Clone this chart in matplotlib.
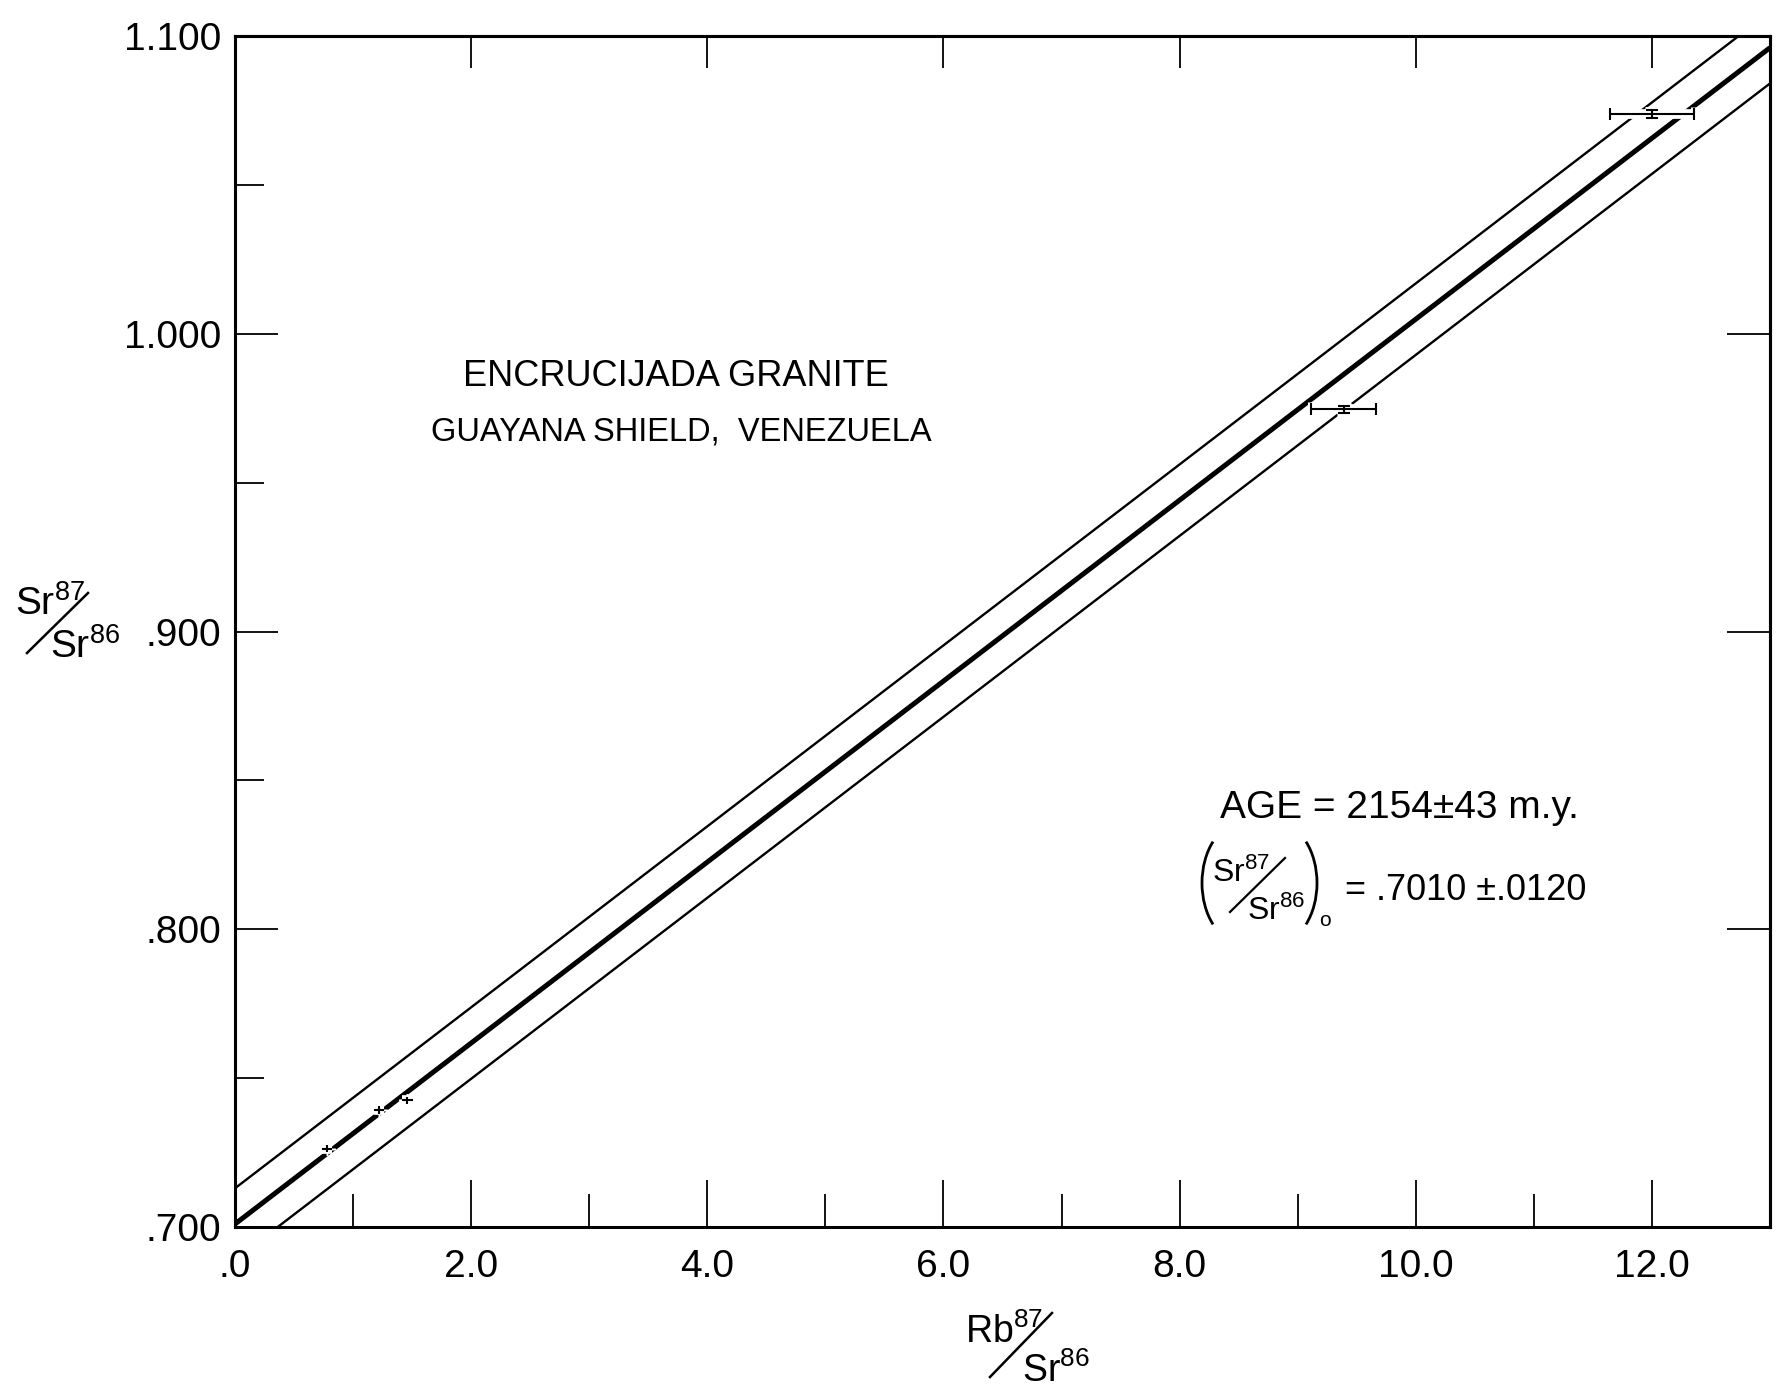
import matplotlib
matplotlib.use('agg')
import matplotlib.pyplot as plt
from matplotlib.lines import Line2D
from matplotlib.patches import Arc
import numpy as np

plt.rcParams['font.family'] = ['Liberation Sans', 'DejaVu Sans']
plt.rcParams['mathtext.default'] = 'regular'

W, H = 1788, 1392

# isochron as drawn (intercept, slope, +/- envelope)
INTERCEPT = 0.7010
SLOPE = 0.03039
ENVELOPE = 0.012
XLIM = (0.0, 13.0)
YLIM = (0.700, 1.100)

# samples
rb_sr = [0.78, 1.22, 1.46, 9.39, 12.00]
sr_sr = [0.7263, 0.7393, 0.7425, 0.9747, 1.0738]
rb_err = [0.045, 0.045, 0.045, 0.275, 0.355]
sr_err = [0.0012, 0.0012, 0.0012, 0.0012, 0.0013]

XTICKS = [0, 2, 4, 6, 8, 10, 12]
XTICKLABELS = ['.0', '2.0', '4.0', '6.0', '8.0', '10.0', '12.0']
XMINOR = [1, 3, 5, 7, 9, 11]
XTOP = [2, 4, 6, 8, 10, 12]
YTICKS = [0.7, 0.8, 0.9, 1.0, 1.1]
YTICKLABELS = ['.700', '.800', '.900', '1.000', '1.100']
YMINOR = [0.75, 0.85, 0.95, 1.05]
YRIGHT = [0.8, 0.9, 1.0]


def fx(px):
    return px / W


def fy(py):
    return 1 - py / H


fig = plt.figure(figsize=(W / 100, H / 100), dpi=100)
ax = fig.add_axes([fx(235), fy(1227), (1770 - 235) / W, (1227 - 36) / H])

xs = np.array(XLIM)
ax.plot(xs, INTERCEPT + SLOPE * xs, color='black', lw=3.6, solid_capstyle='butt', zorder=2)
ax.plot(xs, INTERCEPT + ENVELOPE + SLOPE * xs, color='black', lw=1.7, zorder=2)
ax.plot(xs, INTERCEPT - ENVELOPE + SLOPE * xs, color='black', lw=1.7, zorder=2)

# white halo under the error bars breaks the lines, as on the drawing
for sl, cap in ((slice(0, 3), 0), (slice(3, 5), 4)):
    ax.errorbar(rb_sr[sl], sr_sr[sl], xerr=rb_err[sl], yerr=sr_err[sl],
                fmt='none', ecolor='white', elinewidth=7, capsize=cap + 1,
                capthick=5, zorder=3)
    ax.errorbar(rb_sr[sl], sr_sr[sl], xerr=rb_err[sl], yerr=sr_err[sl],
                fmt='none', ecolor='black', elinewidth=1.5, capsize=cap,
                capthick=1.5, zorder=4)

ax.set_xlim(*XLIM)
ax.set_ylim(*YLIM)
ax.set_xticks(XTICKS)
ax.set_xticklabels(XTICKLABELS)
ax.set_xticks(XMINOR, minor=True)
ax.set_yticks(YTICKS)
ax.set_yticklabels(YTICKLABELS)
ax.set_yticks(YMINOR, minor=True)

ax.tick_params(axis='x', which='major', direction='in', length=34, width=1.3,
               labelsize=28, pad=16, top=False)
ax.tick_params(axis='x', which='minor', direction='in', length=24, width=1.3, top=False)
ax.tick_params(axis='y', which='major', direction='in', length=31, width=1.3,
               labelsize=28, pad=10, right=False)
ax.tick_params(axis='y', which='minor', direction='in', length=21, width=1.3, right=False)
for s in ax.spines.values():
    s.set_linewidth(2.2)

top = ax.secondary_xaxis('top')
top.set_xticks(XTOP)
top.tick_params(direction='in', length=23, width=1.3, labeltop=False)
top.spines['top'].set_linewidth(2.2)
right = ax.secondary_yaxis('right')
right.set_yticks(YRIGHT)
right.tick_params(direction='in', length=31, width=1.3, labelright=False)
right.spines['right'].set_linewidth(2.2)

# titles inside the plot
fig.text(fx(676), fy(377), 'ENCRUCIJADA GRANITE', fontsize=26, ha='center', va='center')
fig.text(fx(681), fy(432), 'GUAYANA SHIELD,  VENEZUELA', fontsize=23.5, ha='center', va='center')

# age box
fig.text(fx(1220), fy(808), 'AGE = 2154\u00b143 m.y.', fontsize=28, ha='left', va='center')
fig.text(fx(1345), fy(890), '= .7010 \u00b1.0120', fontsize=26, ha='left', va='center')
fig.text(fx(1212), fy(873), 'Sr$^{87}$', fontsize=23, ha='left', va='center')
fig.text(fx(1247), fy(911), 'Sr$^{86}$', fontsize=23, ha='left', va='center')
fig.text(fx(1325), fy(921), 'o', fontsize=15, ha='center', va='center')
fig.add_artist(Line2D([fx(1230), fx(1285)], [fy(912), fy(858)], color='black', lw=1.6))
# brackets around the initial ratio, in pixel-based inches
inch = fig.dpi_scale_trans
fig.add_artist(Arc((12.42, (H - 883) / 100), 0.80, 1.20, theta1=125, theta2=235,
                   transform=inch, color='black', lw=2.0))
fig.add_artist(Arc((12.77, (H - 883) / 100), 0.80, 1.20, theta1=-55, theta2=55,
                   transform=inch, color='black', lw=2.0))

# y label
fig.text(fx(15), fy(604), 'Sr$^{87}$', fontsize=28, ha='left', va='center')
fig.text(fx(50), fy(647), 'Sr$^{86}$', fontsize=28, ha='left', va='center')
fig.add_artist(Line2D([fx(27), fx(88)], [fy(653), fy(593)], color='black', lw=1.8))

# x label
fig.text(fx(965), fy(1332), 'Rb$^{87}$', fontsize=27, ha='left', va='center')
fig.text(fx(1022), fy(1371), 'Sr$^{86}$', fontsize=27, ha='left', va='center')
fig.add_artist(Line2D([fx(990), fx(1052)], [fy(1377), fy(1313)], color='black', lw=1.8))

fig.savefig('out.png', dpi=100)
